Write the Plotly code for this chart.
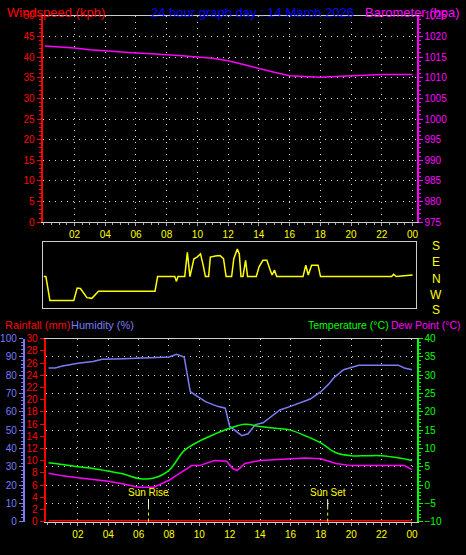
import plotly.graph_objects as go

hours_ticks = [2, 4, 6, 8, 10, 12, 14, 16, 18, 20, 22, 24]
hour_labels = ["02", "04", "06", "08", "10", "12", "14", "16", "18", "20", "22", "00"]

baro_h = [0.07, 1, 2, 3, 4, 5, 6, 7, 8, 9, 10, 11, 12, 12.5, 13, 13.5, 14, 14.5, 15, 15.5, 16, 17, 18, 19, 20, 21, 22, 23, 24]
baro_v = [1017.7, 1017.5, 1017.2, 1016.8, 1016.5, 1016.2, 1016.0, 1015.8, 1015.6, 1015.3, 1015.0, 1014.7, 1014.1, 1013.7, 1013.2, 1012.7, 1012.2, 1011.7, 1011.3, 1010.9, 1010.5, 1010.3, 1010.1, 1010.3, 1010.5, 1010.7, 1010.8, 1010.8, 1010.8]

dir_h = [0.0, 0.14, 0.4, 1.96, 2.18, 2.39, 2.82, 3.14, 3.57, 7.26, 7.43, 8.55, 8.66, 8.76, 9.2, 9.37, 9.54, 9.8, 10.0, 10.23, 10.4, 10.55, 10.76, 10.87, 11.2, 11.5, 11.73, 11.9, 12.26, 12.4, 12.63, 12.76, 12.87, 13.0, 13.17, 13.3, 13.87, 14.05, 14.3, 14.56, 14.78, 14.9, 15.06, 15.2, 16.92, 17.1, 17.26, 17.48, 17.9, 18.06, 22.7, 22.83, 23.0, 23.92, 24.07]
dir_v = [9, 9, -125, -125, -55, -58, -109, -113, -73, -73, 9, 9, -18, 9, 9, 145, 9, 109, 118, 136, 73, 9, 9, 118, 124, 127, 109, 9, 9, 109, 164, 136, 9, 9, 100, 9, 9, 64, 100, 100, 45, 18, 45, 9, 9, 73, 18, 73, 73, 9, 9, 22, 9, 15, 18]

hum_h = [0.07, 0.5, 1, 2, 3, 3.6, 5, 6.5, 8, 8.5, 9.0, 9.4, 10.4, 11.2, 11.7, 12.0, 12.4, 12.8, 13.2, 13.7, 14.2, 14.7, 15.3, 16, 17.3, 18, 18.5, 18.9, 19.5, 20.5, 22, 23.1, 23.5, 24]
hum_v = [84, 84, 85, 86.5, 87.5, 88.7, 89, 89.5, 90, 91.4, 90, 71, 65.6, 63, 62, 52, 49.5, 47, 48, 53, 54, 57, 61, 63, 67, 71, 75, 79, 83, 85.5, 85.5, 85.5, 84, 83]

temp_h = [0.07, 1, 2, 3, 4, 5, 6, 7, 8, 9, 10, 11, 12, 13, 14, 15, 16, 17, 18, 19, 20, 21, 22, 23, 24]
temp_v = [6.1, 5.6, 5.0, 4.5, 3.8, 3.0, 1.8, 1.9, 4.0, 9.4, 12.0, 13.9, 15.5, 16.6, 16.0, 15.5, 15.0, 13.4, 11.5, 8.8, 8.0, 8.0, 8.0, 7.5, 6.7]

dew_h = [0.07, 1, 2, 3, 4, 5, 6, 7, 8, 9, 9.5, 10, 11, 11.8, 12.2, 12.5, 12.8, 13, 14, 15, 16, 17, 18, 19, 20, 22, 23.5, 24]
dew_v = [3.2, 2.5, 2.0, 1.6, 1.0, 0.3, -0.6, -0.6, 1.3, 4.0, 5.3, 5.3, 6.7, 6.5, 4.5, 4.0, 5.0, 5.9, 6.7, 6.9, 7.2, 7.4, 7.2, 5.9, 5.3, 5.3, 5.3, 4.2]

rain_h = [0.07, 6.0, 6.0, 23.9, 23.9, 24.0]
rain_v = [0.0, 0.0, 0.12, 0.12, 0.0, 0.0]

sun_rise_h = 6.65
sun_set_h = 18.45

W, H = 466, 555
def px(a, b): return [a / W, b / W]
def py(top, bot): return [1 - bot / H, 1 - top / H]

YEL = "#ffff00"; RED = "#ff0000"; MAG = "#ff00ff"; GRN = "#00ff00"; BLU = "#7b7bf5"
F = "Liberation Sans"

fig = go.Figure()
fig.add_trace(go.Scatter(x=[None], y=[None], xaxis="x", yaxis="y", showlegend=False))
fig.add_trace(go.Scatter(x=baro_h, y=baro_v, xaxis="x", yaxis="y2", mode="lines", line=dict(color=MAG, width=1.5), showlegend=False))
fig.add_trace(go.Scatter(x=dir_h, y=dir_v, xaxis="x2", yaxis="y3", mode="lines", line=dict(color=YEL, width=1.5), showlegend=False))
fig.add_trace(go.Scatter(x=hum_h, y=hum_v, xaxis="x3", yaxis="y4", mode="lines", line=dict(color=BLU, width=1.5), showlegend=False))
fig.add_trace(go.Scatter(x=rain_h, y=rain_v, xaxis="x3", yaxis="y5", mode="lines", line=dict(color=RED, width=3), showlegend=False))
fig.add_trace(go.Scatter(x=temp_h, y=temp_v, xaxis="x3", yaxis="y6", mode="lines", line=dict(color=GRN, width=1.5, shape="spline"), showlegend=False))
fig.add_trace(go.Scatter(x=dew_h, y=dew_v, xaxis="x3", yaxis="y6", mode="lines", line=dict(color=MAG, width=1.5), showlegend=False))

grid = dict(showgrid=True, gridcolor="#dddddd", griddash="1px,5px", gridwidth=1)
xcommon = dict(tickvals=hours_ticks, ticktext=hour_labels, tickfont=dict(color=YEL, size=10, family=F),
               ticks="outside", tickcolor="#aaaaaa", ticklen=3, zeroline=False,
               minor=dict(dtick=0.5, ticks="outside", ticklen=2, tickcolor="#aaaaaa", tick0=0))

fig.update_layout(
    width=W, height=H, margin=dict(l=0, r=0, t=0, b=0),
    paper_bgcolor="black", plot_bgcolor="black", font=dict(family=F),
    xaxis=dict(domain=px(40, 418), range=[-0.077, 24.26], anchor="y", showline=True, linecolor="#cccccc", mirror=True, **grid, **xcommon),
    yaxis=dict(domain=py(10, 221), range=[0, 50], dtick=5, anchor="x", showline=True, linecolor=RED, linewidth=2,
               tickfont=dict(color=RED, size=10, family=F), ticks="outside", tickcolor=RED, ticklen=4, zeroline=False,
               minor=dict(dtick=1, ticks="outside", ticklen=2, tickcolor=RED), **grid),
    yaxis2=dict(overlaying="y", side="right", anchor="x", range=[975, 1025], dtick=5, showline=True, linecolor=MAG, linewidth=2,
                tickfont=dict(color=MAG, size=10, family=F), ticks="outside", tickcolor=MAG, ticklen=4, showgrid=False, zeroline=False,
                minor=dict(dtick=1, ticks="outside", ticklen=2, tickcolor=MAG)),
    xaxis2=dict(domain=px(40, 417), range=[-0.077, 24.26], anchor="y3", showline=True, linecolor="#cccccc", mirror=True,
                showticklabels=False, showgrid=False, zeroline=False),
    yaxis3=dict(domain=py(241, 309), range=[-169, 204], anchor="x2", showline=True, linecolor="#cccccc", mirror=True,
                showticklabels=False, showgrid=False, zeroline=False),
    xaxis3=dict(domain=px(43, 418), range=[-0.13, 24.3], anchor="y5", showline=True, linecolor="#cccccc", mirror=True, **grid, **xcommon),
    yaxis4=dict(domain=py(340, 527), range=[0, 100], dtick=10, anchor="free", position=21 / W, side="left", showline=True, linecolor=BLU, linewidth=2,
                tickfont=dict(color=BLU, size=10, family=F), ticks="outside", tickcolor=BLU, ticklen=4, zeroline=False,
                minor=dict(dtick=2, ticks="outside", ticklen=2, tickcolor=BLU), **grid),
    yaxis5=dict(overlaying="y4", anchor="x3", side="left", range=[0, 30], dtick=2, showline=True, linecolor=RED, linewidth=2,
                tickfont=dict(color=RED, size=10, family=F), ticks="outside", tickcolor=RED, ticklen=4, showgrid=False, zeroline=False),
    yaxis6=dict(overlaying="y4", anchor="x3", side="right", range=[-10, 40], dtick=5, showline=True, linecolor=GRN, linewidth=2,
                tickfont=dict(color=GRN, size=10, family=F), ticks="outside", tickcolor=GRN, ticklen=4, showgrid=False, zeroline=False,
                minor=dict(dtick=1, ticks="outside", ticklen=2, tickcolor=GRN)),
)

def txt(x, y, t, c, size=12, xa="left"):
    fig.add_annotation(x=x / W, y=1 - y / H, xref="paper", yref="paper", text=t, showarrow=False,
                       font=dict(color=c, size=size, family=F), xanchor=xa, yanchor="middle")

txt(2, 7, "Windspeed (kph)", RED, size=13)
txt(252, 7, "24 hour graph day : 14 March 2026", "#0000ff", size=13, xa="center")
txt(464, 7, "Barometer (hpa)", MAG, size=13, xa="right")
txt(0, 326, "Rainfall (mm)", RED, size=11)
txt(67, 326, "Humidity (%)", BLU, size=11)
txt(392, 326, "Temperature (°C)", GRN, size=10.5, xa="right")
txt(465, 326, "Dew Point (°C)", MAG, size=10.5, xa="right")
for lab, yy in zip(["S", "E", "N", "W", "S"], [245, 262, 279, 295, 311]):
    txt(438, yy, lab, YEL, size=12, xa="center")

for hh, lab in [(sun_rise_h, "Sun Rise"), (sun_set_h, "Sun Set")]:
    fig.add_shape(type="line", xref="x3", yref="paper", x0=hh, x1=hh, y0=1 - 512 / H, y1=1 - 504 / H, line=dict(color="white", width=1))
    fig.add_shape(type="line", xref="x3", yref="paper", x0=hh, x1=hh, y0=1 - 527 / H, y1=1 - 512 / H, line=dict(color=YEL, width=1, dash="dot"))
    fig.add_annotation(x=hh, xref="x3", y=1 - 497 / H, yref="paper", text=lab, showarrow=False,
                       font=dict(color=YEL, size=10, family=F), xanchor="center", yanchor="middle")

fig.write_html("out.html", config={"displayModeBar": False},
               post_script="document.body.style.margin='0';document.body.style.overflow='hidden';document.body.style.background='black';")
